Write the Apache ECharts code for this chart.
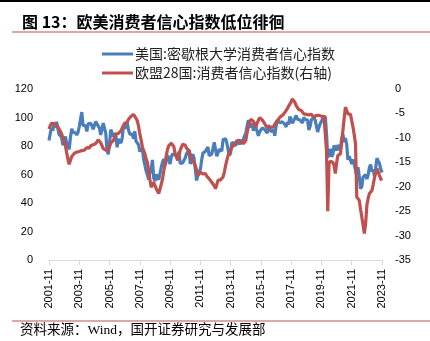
<!DOCTYPE html>
<html>
<head>
<meta charset="utf-8">
<script src="https://cdn.jsdelivr.net/npm/echarts@6/dist/echarts.min.js"></script>
<style>
html,body{margin:0;padding:0;background:#fff;}
#c{width:430px;height:341px;}
</style>
</head>
<body>
<div id="c"></div>
<script>
// Monthly categories 2001-11 .. 2023-11
const startYear = 2001, startMonth = 11, monthCount = 265;
const categories = [];
for (let i = 0; i < monthCount; i++) {
  const t = (startMonth - 1) + i;
  const y = startYear + Math.floor(t / 12);
  const m = (t % 12) + 1;
  categories.push(y + '-' + (m < 10 ? '0' + m : m));
}

const seriesNames = ['美国:密歇根大学消费者信心指数', '欧盟28国:消费者信心指数(右轴)'];

// US: University of Michigan consumer sentiment (left axis)
const usSentiment = [
  83.9, 88.8,
  93.0, 90.7, 95.7, 93.0, 96.9, 92.4, 88.1, 87.6, 86.1, 80.6, 84.2, 86.7,
  82.4, 79.9, 77.6, 86.0, 92.1, 89.7, 90.9, 89.3, 87.7, 89.6, 93.7, 92.6,
  103.8, 94.4, 95.8, 94.2, 90.2, 95.6, 96.7, 95.9, 94.2, 91.7, 92.8, 97.1,
  95.5, 94.1, 92.6, 87.7, 86.9, 96.0, 96.5, 89.1, 76.9, 74.2, 81.6, 91.5,
  91.2, 86.7, 88.9, 87.4, 79.1, 84.9, 84.7, 82.0, 85.4, 93.6, 92.1, 91.7,
  96.9, 91.3, 88.4, 87.1, 88.3, 85.3, 90.4, 83.4, 83.4, 80.9, 76.1, 75.5,
  78.4, 70.8, 69.5, 62.6, 59.8, 56.4, 61.2, 63.0, 70.3, 57.6, 55.3, 60.1,
  61.2, 56.3, 57.3, 65.1, 68.7, 70.8, 66.0, 65.7, 73.5, 70.6, 67.4, 72.5,
  74.4, 73.6, 73.6, 72.2, 73.6, 76.0, 67.8, 68.9, 68.2, 67.7, 71.6, 74.5,
  74.2, 77.5, 67.5, 69.8, 74.3, 71.5, 63.7, 55.8, 59.5, 60.8, 63.7, 69.9,
  75.0, 75.3, 76.2, 76.4, 79.3, 73.2, 72.3, 74.3, 78.3, 82.6, 82.7, 72.9,
  73.8, 77.6, 78.6, 76.4, 84.5, 84.1, 85.1, 82.1, 77.5, 73.2, 75.1, 82.5,
  81.2, 81.6, 80.0, 84.1, 81.9, 82.5, 81.8, 82.5, 84.6, 86.9, 88.8, 93.6,
  98.1, 95.4, 93.0, 95.9, 90.7, 96.1, 93.1, 91.9, 87.2, 90.0, 91.3, 92.6,
  92.0, 91.7, 91.0, 89.0, 94.7, 93.5, 90.0, 89.8, 91.2, 87.2, 93.8, 98.2,
  98.5, 96.3, 96.9, 97.0, 97.1, 95.1, 93.4, 96.8, 95.1, 100.7, 98.5, 95.9,
  95.7, 99.7, 101.4, 98.8, 98.0, 98.2, 97.9, 96.2, 100.1, 98.6, 97.5, 98.3,
  91.2, 93.8, 98.4, 97.2, 100.0, 98.2, 98.4, 89.8, 93.2, 95.5, 96.8, 99.3,
  99.8, 101.0, 89.1, 71.8, 72.3, 78.1, 72.5, 74.1, 80.4, 81.8, 76.9, 80.7,
  79.0, 76.8, 84.9, 88.3, 82.9, 85.5, 81.2, 70.3, 72.8, 71.7, 67.4, 70.6,
  67.2, 62.8, 59.4, 65.2, 58.4, 50.0, 51.5, 58.2, 58.6, 59.9, 56.8, 59.7,
  64.9, 67.0, 62.0, 63.5, 59.0, 64.4, 71.5, 69.5, 67.9, 63.8, 61.3
];

// EU28: consumer confidence (right axis)
const euConfidence = [
  -8.2, -7.5,
  -7.0, -6.9, -7.1, -7.0, -7.3, -7.8, -8.2, -8.6, -9.2, -10.0, -10.8, -11.6,
  -13.0, -14.4, -15.4, -14.6, -13.8, -13.4, -13.2, -13.0, -12.9, -12.6, -12.8, -12.5,
  -12.6, -12.3, -12.5, -12.2, -12.0, -11.9, -12.1, -11.6, -11.7, -11.4, -11.5, -11.2,
  -10.8, -10.4, -10.6, -11.0, -11.4, -12.2, -12.6, -12.5, -12.7, -12.4, -11.8, -11.0,
  -11.2, -10.6, -9.8, -9.2, -9.0, -9.1, -8.9, -8.6, -8.0, -7.6, -7.0, -6.6,
  -6.8, -6.2, -5.8, -5.6, -5.3, -5.2, -5.4, -6.0, -6.5, -7.6, -9.2, -10.4,
  -11.8, -12.6, -13.2, -14.3, -15.0, -16.7, -18.5, -20.1, -19.6, -19.1, -19.8, -20.4,
  -20.8, -21.4, -21.2, -19.5, -18.4, -16.8, -15.0, -13.6, -12.3, -11.6, -11.3, -11.1,
  -11.1, -11.8, -13.3, -13.9, -14.6, -13.8, -12.5, -11.9, -11.3, -11.1, -11.5, -12.1,
  -12.0, -12.6, -13.4, -14.3, -14.6, -15.2, -15.7, -16.5, -17.7, -17.4, -17.0, -17.2,
  -17.4, -17.5, -17.3, -17.8, -18.1, -18.4, -18.6, -19.1, -19.0, -19.8, -20.4, -19.6,
  -18.7, -18.4, -18.6, -18.2, -18.0, -17.0, -15.7, -14.6, -13.6, -13.0, -12.5, -11.9,
  -11.9, -11.4, -10.9, -10.8, -10.5, -10.6, -10.6, -11.0, -11.2, -10.8, -10.6, -9.0,
  -7.8, -6.8, -6.2, -6.1, -6.6, -7.2, -7.8, -7.0, -6.4, -5.9, -5.8, -6.3,
  -6.6, -7.1, -7.6, -7.8, -8.0, -7.6, -7.8, -7.9, -7.8, -7.2, -6.8, -6.5,
  -6.1, -5.8, -5.7, -5.4, -5.0, -4.8, -4.4, -4.0, -3.5, -3.1, -2.6, -2.0,
  -2.2, -2.8, -3.4, -3.8, -4.2, -4.6, -4.4, -4.8, -5.1, -5.0, -5.2, -5.4,
  -5.3, -5.4, -5.2, -5.6, -5.8, -5.6, -5.4, -5.7, -5.4, -5.8, -5.6, -5.7,
  -5.6, -5.8, -12.6, -25.0, -15.3, -14.8, -14.6, -15.0, -15.6, -17.3, -15.2, -13.6,
  -13.5, -13.3, -11.0, -8.5, -6.0, -3.7, -4.4, -5.1, -5.0, -5.2, -6.5, -7.8,
  -9.4, -11.2, -22.1, -22.5, -22.8, -24.6, -26.2, -27.9, -29.6, -27.6, -23.8, -22.4,
  -21.4, -21.0, -20.8, -19.6, -18.2, -17.2, -16.3, -16.6, -17.7, -18.4, -18.7
];

const leftTicks = { min: 0, max: 120, interval: 20 };
const rightTicks = { min: -35, max: 0, interval: 5 };

const chart = echarts.init(document.getElementById('c'), null, { renderer: 'canvas' });
const sansCJK = '"Noto Sans CJK SC", "Noto Sans", sans-serif';
const labelFont = '"Liberation Sans", "Noto Sans", sans-serif';

chart.setOption({
  animation: false,
  backgroundColor: '#fff',
  graphic: [
    { type: 'rect', shape: { x: 0, y: 0, width: 430, height: 2 }, style: { fill: '#000' } },
    { type: 'text', left: 22, top: 14, style: { text: '图 13：欧美消费者信心指数低位徘徊', fontSize: 16, fontFamily: sansCJK, fill: '#000', fontWeight: 'bold' } },
    { type: 'rect', shape: { x: 12, y: 31.5, width: 418, height: 1 }, style: { fill: '#C0504D' } },
    { type: 'rect', shape: { x: 12, y: 320.5, width: 418, height: 1 }, style: { fill: '#C0504D' } },
    { type: 'text', left: 20, top: 324, style: { text: '资料来源：Wind，国开证券研究与发展部', fontSize: 13.5, fontFamily: '"Liberation Serif", "Noto Sans CJK SC", serif', fill: '#000' } }
  ],
  legend: {
    orient: 'vertical',
    left: 97,
    top: 42,
    itemWidth: 31,
    itemHeight: 3,
    itemGap: 5,
    icon: 'rect',
    textStyle: { fontSize: 14, fontFamily: sansCJK, color: '#222', padding: [0, 0, 0, -3] },
    data: seriesNames
  },
  grid: { left: 49, right: 48, top: 89, bottom: 81, containLabel: false },
  xAxis: {
    type: 'category',
    data: categories,
    boundaryGap: false,
    axisLine: { lineStyle: { color: '#D9D9D9', width: 1 } },
    axisTick: { interval: 23, length: 5, lineStyle: { color: '#D9D9D9' } },
    axisLabel: { interval: 23, rotate: 90, fontSize: 11, fontFamily: labelFont, color: '#000', margin: 9 },
    splitLine: { show: false }
  },
  yAxis: [
    {
      type: 'value', min: leftTicks.min, max: leftTicks.max, interval: leftTicks.interval,
      axisLine: { show: false }, axisTick: { show: false }, splitLine: { show: false },
      axisLabel: { fontSize: 11, fontFamily: labelFont, color: '#000', margin: 16 }
    },
    {
      type: 'value', min: rightTicks.min, max: rightTicks.max, interval: rightTicks.interval,
      axisLine: { show: false }, axisTick: { show: false }, splitLine: { show: false },
      axisLabel: { fontSize: 11, fontFamily: labelFont, color: '#000', margin: 13 }
    }
  ],
  series: [
    {
      name: seriesNames[0], type: 'line', data: usSentiment, yAxisIndex: 0,
      showSymbol: false, symbol: 'none', lineStyle: { color: '#4A7EBB', width: 3.2 }, itemStyle: { color: '#4A7EBB' }
    },
    {
      name: seriesNames[1], type: 'line', data: euConfidence, yAxisIndex: 1,
      showSymbol: false, symbol: 'none', lineStyle: { color: '#C0504D', width: 3.2 }, itemStyle: { color: '#C0504D' }
    }
  ]
});
</script>
</body>
</html>
